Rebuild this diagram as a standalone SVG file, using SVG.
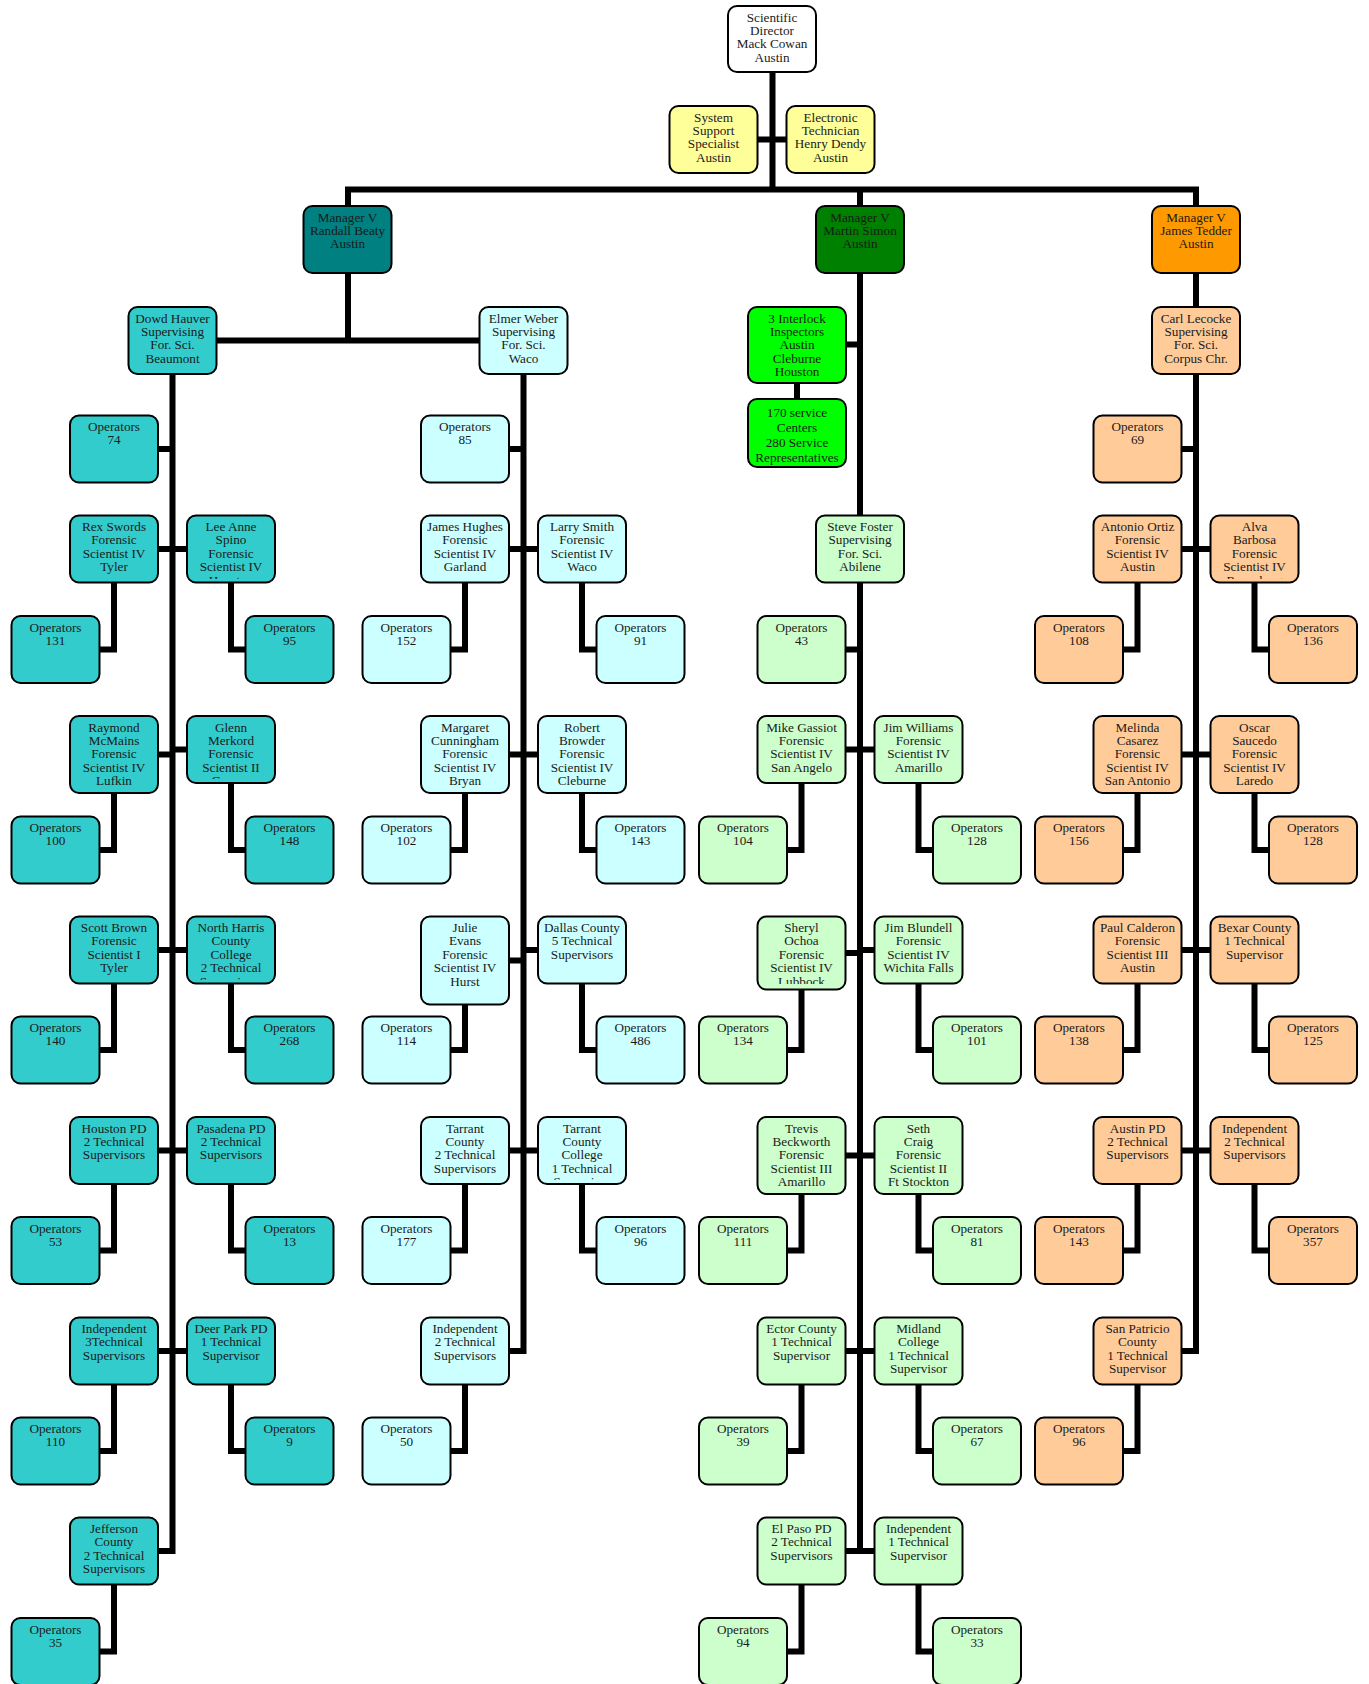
<svg xmlns="http://www.w3.org/2000/svg" width="1369" height="1684" viewBox="0 0 1369 1684">
<style>
  .n rect { stroke: #000; stroke-width: 2; }
  .white rect { fill: #ffffff; }
  .yellow rect { fill: #ffff99; }
  .teal-dk rect { fill: #008080; }
  .green-dk rect { fill: #008000; }
  .orange-dk rect { fill: #ff9900; }
  .lime rect { fill: #00ff00; }
  .teal rect { fill: #33cccc; }
  .cyan rect { fill: #ccffff; }
  .mint rect { fill: #ccffcc; }
  .peach rect { fill: #ffcc99; }
  text { font-family: "Liberation Serif", "Times New Roman", serif; font-size: 13.2px; fill: #1a1a1a; text-anchor: middle; }
  #links path { fill: none; stroke: #000; stroke-width: 6; stroke-linejoin: miter; stroke-linecap: butt; }
</style>
<defs>
  <clipPath id="clip-spino"><rect x="187" y="516" width="88" height="63"/></clipPath>
  <clipPath id="clip-merkord"><rect x="187" y="716" width="88" height="63"/></clipPath>
  <clipPath id="clip-nhcc"><rect x="187" y="917" width="88" height="63"/></clipPath>
  <clipPath id="clip-tcc"><rect x="538" y="1117" width="88" height="63"/></clipPath>
  <clipPath id="clip-ochoa"><rect x="757.5" y="917" width="88" height="67"/></clipPath>
  <clipPath id="clip-barbosa"><rect x="1210.5" y="516" width="88" height="63"/></clipPath>
</defs>
<rect width="1369" height="1684" fill="#ffffff"/>

<g id="links">
  <!-- trunk from the director -->
  <path d="M772.5 39 V189.5"/>
  <path d="M713.5 139.5 H830.5"/>
  <!-- top bar joining the three managers -->
  <path d="M348 340.5 V189.5 H1196 V1351 H1137.5"/>
  <path d="M860 189.5 V1554"/>
  <path d="M172.5 340.5 H523.5"/>
  <!-- Hauver branch -->
  <path d="M172.5 374 V1551 H114"/>
  <path d="M114 449 H172.5"/>
  <path d="M114 549 H231"/>
  <path d="M114 549 V649.5 H55.5"/>
  <path d="M231 549 V649.5 H289.5"/>
  <path d="M114 754.5 H172.5"/>
  <path d="M172.5 749.5 H231"/>
  <path d="M114 754.5 V850 H55.5"/>
  <path d="M231 749.5 V850 H289.5"/>
  <path d="M114 950 H231"/>
  <path d="M114 950 V1050 H55.5"/>
  <path d="M231 950 V1050 H289.5"/>
  <path d="M114 1150.5 H231"/>
  <path d="M114 1150.5 V1250.5 H55.5"/>
  <path d="M231 1150.5 V1250.5 H289.5"/>
  <path d="M114 1351 H231"/>
  <path d="M114 1351 V1451 H55.5"/>
  <path d="M231 1351 V1451 H289.5"/>
  <path d="M114 1551 V1651.5 H55.5"/>
  <!-- Weber branch -->
  <path d="M523.5 373 V1351 H465"/>
  <path d="M465 449 H523.5"/>
  <path d="M465 549 H582"/>
  <path d="M465 549 V649.5 H406.5"/>
  <path d="M582 549 V649.5 H640.5"/>
  <path d="M465 754.5 H582"/>
  <path d="M465 754.5 V850 H406.5"/>
  <path d="M582 754.5 V850 H640.5"/>
  <path d="M465 960.5 H523.5"/>
  <path d="M523.5 950 H582"/>
  <path d="M465 960.5 V1050 H406.5"/>
  <path d="M582 950 V1050 H640.5"/>
  <path d="M465 1150.5 H582"/>
  <path d="M465 1150.5 V1250.5 H406.5"/>
  <path d="M582 1150.5 V1250.5 H640.5"/>
  <path d="M465 1351 V1451 H406.5"/>
  <!-- Simon branch -->
  <path d="M797 344.5 H860"/>
  <path d="M797 345 V433"/>
  <path d="M801.5 649.5 H860"/>
  <path d="M801.5 749.5 H918.5"/>
  <path d="M801.5 749.5 V850 H743"/>
  <path d="M918.5 749.5 V850 H977"/>
  <path d="M801.5 953 H860"/>
  <path d="M860 950 H918.5"/>
  <path d="M801.5 953 V1050 H743"/>
  <path d="M918.5 950 V1050 H977"/>
  <path d="M801.5 1155.5 H918.5"/>
  <path d="M801.5 1155.5 V1250.5 H743"/>
  <path d="M918.5 1155.5 V1250.5 H977"/>
  <path d="M801.5 1351 H918.5"/>
  <path d="M801.5 1351 V1451 H743"/>
  <path d="M918.5 1351 V1451 H977"/>
  <path d="M801.5 1551 H918.5"/>
  <path d="M801.5 1551 V1651.5 H743"/>
  <path d="M918.5 1551 V1651.5 H977"/>
  <!-- Tedder branch -->
  <path d="M1137.5 449 H1196"/>
  <path d="M1137.5 549 H1254.5"/>
  <path d="M1137.5 549 V649.5 H1079"/>
  <path d="M1254.5 549 V649.5 H1313"/>
  <path d="M1137.5 754.5 H1254.5"/>
  <path d="M1137.5 754.5 V850 H1079"/>
  <path d="M1254.5 754.5 V850 H1313"/>
  <path d="M1137.5 950 H1254.5"/>
  <path d="M1137.5 950 V1050 H1079"/>
  <path d="M1254.5 950 V1050 H1313"/>
  <path d="M1137.5 1150.5 H1254.5"/>
  <path d="M1137.5 1150.5 V1250.5 H1079"/>
  <path d="M1254.5 1150.5 V1250.5 H1313"/>
  <path d="M1137.5 1351 V1451 H1079"/>
</g>

<!-- top of the chart -->
<g id="director" class="n white"><rect x="728" y="6" width="88" height="66" rx="9"/><text x="772" y="21.5"><tspan x="772">Scientific</tspan><tspan x="772" dy="13.4">Director</tspan><tspan x="772" dy="13.4">Mack Cowan</tspan><tspan x="772" dy="13.4">Austin</tspan></text></g>
<g id="system-support" class="n yellow"><rect x="669.5" y="106" width="88" height="67" rx="9"/><text x="713.5" y="122"><tspan x="713.5">System</tspan><tspan x="713.5" dy="13.2">Support</tspan><tspan x="713.5" dy="13.2">Specialist</tspan><tspan x="713.5" dy="13.2">Austin</tspan></text></g>
<g id="electronic-tech" class="n yellow"><rect x="786.5" y="106" width="88" height="67" rx="9"/><text x="830.5" y="122"><tspan x="830.5">Electronic</tspan><tspan x="830.5" dy="13.2">Technician</tspan><tspan x="830.5" dy="13.2">Henry Dendy</tspan><tspan x="830.5" dy="13.2">Austin</tspan></text></g>
<g id="mgr-beaty" class="n teal-dk"><rect x="303.5" y="206" width="88" height="67" rx="9"/><text x="347.5" y="221.5"><tspan x="347.5">Manager V</tspan><tspan x="347.5" dy="13.4">Randall Beaty</tspan><tspan x="347.5" dy="13.4">Austin</tspan></text></g>
<g id="mgr-simon" class="n green-dk"><rect x="816" y="206" width="88" height="67" rx="9"/><text x="860" y="221.5"><tspan x="860">Manager V</tspan><tspan x="860" dy="13.4">Martin Simon</tspan><tspan x="860" dy="13.4">Austin</tspan></text></g>
<g id="mgr-tedder" class="n orange-dk"><rect x="1152" y="206" width="88" height="67" rx="9"/><text x="1196" y="221.5"><tspan x="1196">Manager V</tspan><tspan x="1196" dy="13.4">James Tedder</tspan><tspan x="1196" dy="13.4">Austin</tspan></text></g>
<g id="sup-hauver" class="n teal"><rect x="128.5" y="307" width="88" height="67" rx="9"/><text x="172.5" y="322.5"><tspan x="172.5">Dowd Hauver</tspan><tspan x="172.5" dy="13.4">Supervising</tspan><tspan x="172.5" dy="13.4">For. Sci.</tspan><tspan x="172.5" dy="13.4">Beaumont</tspan></text></g>
<g id="sup-weber" class="n cyan"><rect x="479.5" y="307" width="88" height="67" rx="9"/><text x="523.5" y="322.5"><tspan x="523.5">Elmer Weber</tspan><tspan x="523.5" dy="13.4">Supervising</tspan><tspan x="523.5" dy="13.4">For. Sci.</tspan><tspan x="523.5" dy="13.4">Waco</tspan></text></g>
<g id="interlock" class="n lime"><rect x="748" y="307" width="98" height="76" rx="9"/><text x="797" y="322.5"><tspan x="797">3 Interlock</tspan><tspan x="797" dy="13.4">Inspectors</tspan><tspan x="797" dy="13.4">Austin</tspan><tspan x="797" dy="13.4">Cleburne</tspan><tspan x="797" dy="13.4">Houston</tspan></text></g>
<g id="service-centers" class="n lime"><rect x="748" y="399" width="98" height="68" rx="9"/><text x="797" y="416.5"><tspan x="797">170 service</tspan><tspan x="797" dy="15">Centers</tspan><tspan x="797" dy="15">280 Service</tspan><tspan x="797" dy="15">Representatives</tspan></text></g>
<g id="sup-lecocke" class="n peach"><rect x="1152" y="307" width="88" height="67" rx="9"/><text x="1196" y="322.5"><tspan x="1196">Carl Lecocke</tspan><tspan x="1196" dy="13.4">Supervising</tspan><tspan x="1196" dy="13.4">For. Sci.</tspan><tspan x="1196" dy="13.4">Corpus Chr.</tspan></text></g>
<g id="sup-foster" class="n mint"><rect x="816" y="515.5" width="88" height="67" rx="9"/><text x="860" y="531"><tspan x="860">Steve Foster</tspan><tspan x="860" dy="13.4">Supervising</tspan><tspan x="860" dy="13.4">For. Sci.</tspan><tspan x="860" dy="13.4">Abilene</tspan></text></g>

<!-- Hauver branch -->
<g id="ops-74" class="n teal"><rect x="70" y="415.5" width="88" height="67" rx="9"/><text x="114" y="431"><tspan x="114">Operators</tspan><tspan x="114" dy="13.4">74</tspan></text></g>
<g id="swords" class="n teal"><rect x="70" y="515.5" width="88" height="67" rx="9"/><text x="114" y="531"><tspan x="114">Rex Swords</tspan><tspan x="114" dy="13.4">Forensic</tspan><tspan x="114" dy="13.4">Scientist IV</tspan><tspan x="114" dy="13.4">Tyler</tspan></text></g>
<g id="spino" class="n teal"><rect x="187" y="515.5" width="88" height="67" rx="9"/><text x="231" y="531" clip-path="url(#clip-spino)"><tspan x="231">Lee Anne</tspan><tspan x="231" dy="13.4">Spino</tspan><tspan x="231" dy="13.4">Forensic</tspan><tspan x="231" dy="13.4">Scientist IV</tspan><tspan x="231" dy="13.4">Houston</tspan></text></g>
<g id="ops-131" class="n teal"><rect x="11.5" y="616" width="88" height="67" rx="9"/><text x="55.5" y="631.5"><tspan x="55.5">Operators</tspan><tspan x="55.5" dy="13.4">131</tspan></text></g>
<g id="ops-95" class="n teal"><rect x="245.5" y="616" width="88" height="67" rx="9"/><text x="289.5" y="631.5"><tspan x="289.5">Operators</tspan><tspan x="289.5" dy="13.4">95</tspan></text></g>
<g id="mcmains" class="n teal"><rect x="70" y="716" width="88" height="77" rx="9"/><text x="114" y="731.5"><tspan x="114">Raymond</tspan><tspan x="114" dy="13.4">McMains</tspan><tspan x="114" dy="13.4">Forensic</tspan><tspan x="114" dy="13.4">Scientist IV</tspan><tspan x="114" dy="13.4">Lufkin</tspan></text></g>
<g id="merkord" class="n teal"><rect x="187" y="716" width="88" height="67" rx="9"/><text x="231" y="731.5" clip-path="url(#clip-merkord)"><tspan x="231">Glenn</tspan><tspan x="231" dy="13.4">Merkord</tspan><tspan x="231" dy="13.4">Forensic</tspan><tspan x="231" dy="13.4">Scientist II</tspan><tspan x="231" dy="13.4">Conroe</tspan></text></g>
<g id="ops-100" class="n teal"><rect x="11.5" y="816.5" width="88" height="67" rx="9"/><text x="55.5" y="832"><tspan x="55.5">Operators</tspan><tspan x="55.5" dy="13.4">100</tspan></text></g>
<g id="ops-148" class="n teal"><rect x="245.5" y="816.5" width="88" height="67" rx="9"/><text x="289.5" y="832"><tspan x="289.5">Operators</tspan><tspan x="289.5" dy="13.4">148</tspan></text></g>
<g id="brown" class="n teal"><rect x="70" y="916.5" width="88" height="67" rx="9"/><text x="114" y="932"><tspan x="114">Scott Brown</tspan><tspan x="114" dy="13.4">Forensic</tspan><tspan x="114" dy="13.4">Scientist I</tspan><tspan x="114" dy="13.4">Tyler</tspan></text></g>
<g id="north-harris" class="n teal"><rect x="187" y="916.5" width="88" height="67" rx="9"/><text x="231" y="932" clip-path="url(#clip-nhcc)"><tspan x="231">North Harris</tspan><tspan x="231" dy="13.4">County</tspan><tspan x="231" dy="13.4">College</tspan><tspan x="231" dy="13.4">2 Technical</tspan><tspan x="231" dy="13.4">Supervisors</tspan></text></g>
<g id="ops-140" class="n teal"><rect x="11.5" y="1016.5" width="88" height="67" rx="9"/><text x="55.5" y="1032"><tspan x="55.5">Operators</tspan><tspan x="55.5" dy="13.4">140</tspan></text></g>
<g id="ops-268" class="n teal"><rect x="245.5" y="1016.5" width="88" height="67" rx="9"/><text x="289.5" y="1032"><tspan x="289.5">Operators</tspan><tspan x="289.5" dy="13.4">268</tspan></text></g>
<g id="houston-pd" class="n teal"><rect x="70" y="1117" width="88" height="67" rx="9"/><text x="114" y="1132.5"><tspan x="114">Houston PD</tspan><tspan x="114" dy="13.4">2 Technical</tspan><tspan x="114" dy="13.4">Supervisors</tspan></text></g>
<g id="pasadena-pd" class="n teal"><rect x="187" y="1117" width="88" height="67" rx="9"/><text x="231" y="1132.5"><tspan x="231">Pasadena PD</tspan><tspan x="231" dy="13.4">2 Technical</tspan><tspan x="231" dy="13.4">Supervisors</tspan></text></g>
<g id="ops-53" class="n teal"><rect x="11.5" y="1217" width="88" height="67" rx="9"/><text x="55.5" y="1232.5"><tspan x="55.5">Operators</tspan><tspan x="55.5" dy="13.4">53</tspan></text></g>
<g id="ops-13" class="n teal"><rect x="245.5" y="1217" width="88" height="67" rx="9"/><text x="289.5" y="1232.5"><tspan x="289.5">Operators</tspan><tspan x="289.5" dy="13.4">13</tspan></text></g>
<g id="independent-t" class="n teal"><rect x="70" y="1317.5" width="88" height="67" rx="9"/><text x="114" y="1333"><tspan x="114">Independent</tspan><tspan x="114" dy="13.4">3Technical</tspan><tspan x="114" dy="13.4">Supervisors</tspan></text></g>
<g id="deer-park-pd" class="n teal"><rect x="187" y="1317.5" width="88" height="67" rx="9"/><text x="231" y="1333"><tspan x="231">Deer Park PD</tspan><tspan x="231" dy="13.4">1 Technical</tspan><tspan x="231" dy="13.4">Supervisor</tspan></text></g>
<g id="ops-110" class="n teal"><rect x="11.5" y="1417.5" width="88" height="67" rx="9"/><text x="55.5" y="1433"><tspan x="55.5">Operators</tspan><tspan x="55.5" dy="13.4">110</tspan></text></g>
<g id="ops-9" class="n teal"><rect x="245.5" y="1417.5" width="88" height="67" rx="9"/><text x="289.5" y="1433"><tspan x="289.5">Operators</tspan><tspan x="289.5" dy="13.4">9</tspan></text></g>
<g id="jefferson" class="n teal"><rect x="70" y="1517.5" width="88" height="67" rx="9"/><text x="114" y="1533"><tspan x="114">Jefferson</tspan><tspan x="114" dy="13.4">County</tspan><tspan x="114" dy="13.4">2 Technical</tspan><tspan x="114" dy="13.4">Supervisors</tspan></text></g>
<g id="ops-35" class="n teal"><rect x="11.5" y="1618" width="88" height="67" rx="9"/><text x="55.5" y="1633.5"><tspan x="55.5">Operators</tspan><tspan x="55.5" dy="13.4">35</tspan></text></g>

<!-- Weber branch -->
<g id="ops-85" class="n cyan"><rect x="421" y="415.5" width="88" height="67" rx="9"/><text x="465" y="431"><tspan x="465">Operators</tspan><tspan x="465" dy="13.4">85</tspan></text></g>
<g id="hughes" class="n cyan"><rect x="421" y="515.5" width="88" height="67" rx="9"/><text x="465" y="531"><tspan x="465">James Hughes</tspan><tspan x="465" dy="13.4">Forensic</tspan><tspan x="465" dy="13.4">Scientist IV</tspan><tspan x="465" dy="13.4">Garland</tspan></text></g>
<g id="smith" class="n cyan"><rect x="538" y="515.5" width="88" height="67" rx="9"/><text x="582" y="531"><tspan x="582">Larry Smith</tspan><tspan x="582" dy="13.4">Forensic</tspan><tspan x="582" dy="13.4">Scientist IV</tspan><tspan x="582" dy="13.4">Waco</tspan></text></g>
<g id="ops-152" class="n cyan"><rect x="362.5" y="616" width="88" height="67" rx="9"/><text x="406.5" y="631.5"><tspan x="406.5">Operators</tspan><tspan x="406.5" dy="13.4">152</tspan></text></g>
<g id="ops-91" class="n cyan"><rect x="596.5" y="616" width="88" height="67" rx="9"/><text x="640.5" y="631.5"><tspan x="640.5">Operators</tspan><tspan x="640.5" dy="13.4">91</tspan></text></g>
<g id="cunningham" class="n cyan"><rect x="421" y="716" width="88" height="77" rx="9"/><text x="465" y="731.5"><tspan x="465">Margaret</tspan><tspan x="465" dy="13.4">Cunningham</tspan><tspan x="465" dy="13.4">Forensic</tspan><tspan x="465" dy="13.4">Scientist IV</tspan><tspan x="465" dy="13.4">Bryan</tspan></text></g>
<g id="browder" class="n cyan"><rect x="538" y="716" width="88" height="77" rx="9"/><text x="582" y="731.5"><tspan x="582">Robert</tspan><tspan x="582" dy="13.4">Browder</tspan><tspan x="582" dy="13.4">Forensic</tspan><tspan x="582" dy="13.4">Scientist IV</tspan><tspan x="582" dy="13.4">Cleburne</tspan></text></g>
<g id="ops-102" class="n cyan"><rect x="362.5" y="816.5" width="88" height="67" rx="9"/><text x="406.5" y="832"><tspan x="406.5">Operators</tspan><tspan x="406.5" dy="13.4">102</tspan></text></g>
<g id="ops-143a" class="n cyan"><rect x="596.5" y="816.5" width="88" height="67" rx="9"/><text x="640.5" y="832"><tspan x="640.5">Operators</tspan><tspan x="640.5" dy="13.4">143</tspan></text></g>
<g id="evans" class="n cyan"><rect x="421" y="916.5" width="88" height="88" rx="9"/><text x="465" y="932"><tspan x="465">Julie</tspan><tspan x="465" dy="13.4">Evans</tspan><tspan x="465" dy="13.4">Forensic</tspan><tspan x="465" dy="13.4">Scientist IV</tspan><tspan x="465" dy="13.4">Hurst</tspan></text></g>
<g id="dallas-county" class="n cyan"><rect x="538" y="916.5" width="88" height="67" rx="9"/><text x="582" y="932"><tspan x="582">Dallas County</tspan><tspan x="582" dy="13.4">5 Technical</tspan><tspan x="582" dy="13.4">Supervisors</tspan></text></g>
<g id="ops-114" class="n cyan"><rect x="362.5" y="1016.5" width="88" height="67" rx="9"/><text x="406.5" y="1032"><tspan x="406.5">Operators</tspan><tspan x="406.5" dy="13.4">114</tspan></text></g>
<g id="ops-486" class="n cyan"><rect x="596.5" y="1016.5" width="88" height="67" rx="9"/><text x="640.5" y="1032"><tspan x="640.5">Operators</tspan><tspan x="640.5" dy="13.4">486</tspan></text></g>
<g id="tarrant-county" class="n cyan"><rect x="421" y="1117" width="88" height="67" rx="9"/><text x="465" y="1132.5"><tspan x="465">Tarrant</tspan><tspan x="465" dy="13.4">County</tspan><tspan x="465" dy="13.4">2 Technical</tspan><tspan x="465" dy="13.4">Supervisors</tspan></text></g>
<g id="tarrant-college" class="n cyan"><rect x="538" y="1117" width="88" height="67" rx="9"/><text x="582" y="1132.5" clip-path="url(#clip-tcc)"><tspan x="582">Tarrant</tspan><tspan x="582" dy="13.4">County</tspan><tspan x="582" dy="13.4">College</tspan><tspan x="582" dy="13.4">1 Technical</tspan><tspan x="582" dy="13.4">Supervisor</tspan></text></g>
<g id="ops-177" class="n cyan"><rect x="362.5" y="1217" width="88" height="67" rx="9"/><text x="406.5" y="1232.5"><tspan x="406.5">Operators</tspan><tspan x="406.5" dy="13.4">177</tspan></text></g>
<g id="ops-96a" class="n cyan"><rect x="596.5" y="1217" width="88" height="67" rx="9"/><text x="640.5" y="1232.5"><tspan x="640.5">Operators</tspan><tspan x="640.5" dy="13.4">96</tspan></text></g>
<g id="independent-w" class="n cyan"><rect x="421" y="1317.5" width="88" height="67" rx="9"/><text x="465" y="1333"><tspan x="465">Independent</tspan><tspan x="465" dy="13.4">2 Technical</tspan><tspan x="465" dy="13.4">Supervisors</tspan></text></g>
<g id="ops-50" class="n cyan"><rect x="362.5" y="1417.5" width="88" height="67" rx="9"/><text x="406.5" y="1433"><tspan x="406.5">Operators</tspan><tspan x="406.5" dy="13.4">50</tspan></text></g>

<!-- Foster branch -->
<g id="ops-43" class="n mint"><rect x="757.5" y="616" width="88" height="67" rx="9"/><text x="801.5" y="631.5"><tspan x="801.5">Operators</tspan><tspan x="801.5" dy="13.4">43</tspan></text></g>
<g id="gassiot" class="n mint"><rect x="757.5" y="716" width="88" height="67" rx="9"/><text x="801.5" y="731.5"><tspan x="801.5">Mike Gassiot</tspan><tspan x="801.5" dy="13.4">Forensic</tspan><tspan x="801.5" dy="13.4">Scientist IV</tspan><tspan x="801.5" dy="13.4">San Angelo</tspan></text></g>
<g id="williams" class="n mint"><rect x="874.5" y="716" width="88" height="67" rx="9"/><text x="918.5" y="731.5"><tspan x="918.5">Jim Williams</tspan><tspan x="918.5" dy="13.4">Forensic</tspan><tspan x="918.5" dy="13.4">Scientist IV</tspan><tspan x="918.5" dy="13.4">Amarillo</tspan></text></g>
<g id="ops-104" class="n mint"><rect x="699" y="816.5" width="88" height="67" rx="9"/><text x="743" y="832"><tspan x="743">Operators</tspan><tspan x="743" dy="13.4">104</tspan></text></g>
<g id="ops-128a" class="n mint"><rect x="933" y="816.5" width="88" height="67" rx="9"/><text x="977" y="832"><tspan x="977">Operators</tspan><tspan x="977" dy="13.4">128</tspan></text></g>
<g id="ochoa" class="n mint"><rect x="757.5" y="916.5" width="88" height="73" rx="9"/><text x="801.5" y="932" clip-path="url(#clip-ochoa)"><tspan x="801.5">Sheryl</tspan><tspan x="801.5" dy="13.4">Ochoa</tspan><tspan x="801.5" dy="13.4">Forensic</tspan><tspan x="801.5" dy="13.4">Scientist IV</tspan><tspan x="801.5" dy="13.4">Lubbock</tspan></text></g>
<g id="blundell" class="n mint"><rect x="874.5" y="916.5" width="88" height="67" rx="9"/><text x="918.5" y="932"><tspan x="918.5">Jim Blundell</tspan><tspan x="918.5" dy="13.4">Forensic</tspan><tspan x="918.5" dy="13.4">Scientist IV</tspan><tspan x="918.5" dy="13.4">Wichita Falls</tspan></text></g>
<g id="ops-134" class="n mint"><rect x="699" y="1016.5" width="88" height="67" rx="9"/><text x="743" y="1032"><tspan x="743">Operators</tspan><tspan x="743" dy="13.4">134</tspan></text></g>
<g id="ops-101" class="n mint"><rect x="933" y="1016.5" width="88" height="67" rx="9"/><text x="977" y="1032"><tspan x="977">Operators</tspan><tspan x="977" dy="13.4">101</tspan></text></g>
<g id="beckworth" class="n mint"><rect x="757.5" y="1117" width="88" height="77" rx="9"/><text x="801.5" y="1132.5"><tspan x="801.5">Trevis</tspan><tspan x="801.5" dy="13.4">Beckworth</tspan><tspan x="801.5" dy="13.4">Forensic</tspan><tspan x="801.5" dy="13.4">Scientist III</tspan><tspan x="801.5" dy="13.4">Amarillo</tspan></text></g>
<g id="craig" class="n mint"><rect x="874.5" y="1117" width="88" height="77" rx="9"/><text x="918.5" y="1132.5"><tspan x="918.5">Seth</tspan><tspan x="918.5" dy="13.4">Craig</tspan><tspan x="918.5" dy="13.4">Forensic</tspan><tspan x="918.5" dy="13.4">Scientist II</tspan><tspan x="918.5" dy="13.4">Ft Stockton</tspan></text></g>
<g id="ops-111" class="n mint"><rect x="699" y="1217" width="88" height="67" rx="9"/><text x="743" y="1232.5"><tspan x="743">Operators</tspan><tspan x="743" dy="13.4">111</tspan></text></g>
<g id="ops-81" class="n mint"><rect x="933" y="1217" width="88" height="67" rx="9"/><text x="977" y="1232.5"><tspan x="977">Operators</tspan><tspan x="977" dy="13.4">81</tspan></text></g>
<g id="ector-county" class="n mint"><rect x="757.5" y="1317.5" width="88" height="67" rx="9"/><text x="801.5" y="1333"><tspan x="801.5">Ector County</tspan><tspan x="801.5" dy="13.4">1 Technical</tspan><tspan x="801.5" dy="13.4">Supervisor</tspan></text></g>
<g id="midland-college" class="n mint"><rect x="874.5" y="1317.5" width="88" height="67" rx="9"/><text x="918.5" y="1333"><tspan x="918.5">Midland</tspan><tspan x="918.5" dy="13.4">College</tspan><tspan x="918.5" dy="13.4">1 Technical</tspan><tspan x="918.5" dy="13.4">Supervisor</tspan></text></g>
<g id="ops-39" class="n mint"><rect x="699" y="1417.5" width="88" height="67" rx="9"/><text x="743" y="1433"><tspan x="743">Operators</tspan><tspan x="743" dy="13.4">39</tspan></text></g>
<g id="ops-67" class="n mint"><rect x="933" y="1417.5" width="88" height="67" rx="9"/><text x="977" y="1433"><tspan x="977">Operators</tspan><tspan x="977" dy="13.4">67</tspan></text></g>
<g id="el-paso-pd" class="n mint"><rect x="757.5" y="1517.5" width="88" height="67" rx="9"/><text x="801.5" y="1533"><tspan x="801.5">El Paso PD</tspan><tspan x="801.5" dy="13.4">2 Technical</tspan><tspan x="801.5" dy="13.4">Supervisors</tspan></text></g>
<g id="independent-f" class="n mint"><rect x="874.5" y="1517.5" width="88" height="67" rx="9"/><text x="918.5" y="1533"><tspan x="918.5">Independent</tspan><tspan x="918.5" dy="13.4">1 Technical</tspan><tspan x="918.5" dy="13.4">Supervisor</tspan></text></g>
<g id="ops-94" class="n mint"><rect x="699" y="1618" width="88" height="67" rx="9"/><text x="743" y="1633.5"><tspan x="743">Operators</tspan><tspan x="743" dy="13.4">94</tspan></text></g>
<g id="ops-33" class="n mint"><rect x="933" y="1618" width="88" height="67" rx="9"/><text x="977" y="1633.5"><tspan x="977">Operators</tspan><tspan x="977" dy="13.4">33</tspan></text></g>

<!-- Lecocke branch -->
<g id="ops-69" class="n peach"><rect x="1093.5" y="415.5" width="88" height="67" rx="9"/><text x="1137.5" y="431"><tspan x="1137.5">Operators</tspan><tspan x="1137.5" dy="13.4">69</tspan></text></g>
<g id="ortiz" class="n peach"><rect x="1093.5" y="515.5" width="88" height="67" rx="9"/><text x="1137.5" y="531"><tspan x="1137.5">Antonio Ortiz</tspan><tspan x="1137.5" dy="13.4">Forensic</tspan><tspan x="1137.5" dy="13.4">Scientist IV</tspan><tspan x="1137.5" dy="13.4">Austin</tspan></text></g>
<g id="barbosa" class="n peach"><rect x="1210.5" y="515.5" width="88" height="67" rx="9"/><text x="1254.5" y="531" clip-path="url(#clip-barbosa)"><tspan x="1254.5">Alva</tspan><tspan x="1254.5" dy="13.4">Barbosa</tspan><tspan x="1254.5" dy="13.4">Forensic</tspan><tspan x="1254.5" dy="13.4">Scientist IV</tspan><tspan x="1254.5" dy="13.4">Rosenberg</tspan></text></g>
<g id="ops-108" class="n peach"><rect x="1035" y="616" width="88" height="67" rx="9"/><text x="1079" y="631.5"><tspan x="1079">Operators</tspan><tspan x="1079" dy="13.4">108</tspan></text></g>
<g id="ops-136" class="n peach"><rect x="1269" y="616" width="88" height="67" rx="9"/><text x="1313" y="631.5"><tspan x="1313">Operators</tspan><tspan x="1313" dy="13.4">136</tspan></text></g>
<g id="casarez" class="n peach"><rect x="1093.5" y="716" width="88" height="77" rx="9"/><text x="1137.5" y="731.5"><tspan x="1137.5">Melinda</tspan><tspan x="1137.5" dy="13.4">Casarez</tspan><tspan x="1137.5" dy="13.4">Forensic</tspan><tspan x="1137.5" dy="13.4">Scientist IV</tspan><tspan x="1137.5" dy="13.4">San Antonio</tspan></text></g>
<g id="saucedo" class="n peach"><rect x="1210.5" y="716" width="88" height="77" rx="9"/><text x="1254.5" y="731.5"><tspan x="1254.5">Oscar</tspan><tspan x="1254.5" dy="13.4">Saucedo</tspan><tspan x="1254.5" dy="13.4">Forensic</tspan><tspan x="1254.5" dy="13.4">Scientist IV</tspan><tspan x="1254.5" dy="13.4">Laredo</tspan></text></g>
<g id="ops-156" class="n peach"><rect x="1035" y="816.5" width="88" height="67" rx="9"/><text x="1079" y="832"><tspan x="1079">Operators</tspan><tspan x="1079" dy="13.4">156</tspan></text></g>
<g id="ops-128b" class="n peach"><rect x="1269" y="816.5" width="88" height="67" rx="9"/><text x="1313" y="832"><tspan x="1313">Operators</tspan><tspan x="1313" dy="13.4">128</tspan></text></g>
<g id="calderon" class="n peach"><rect x="1093.5" y="916.5" width="88" height="67" rx="9"/><text x="1137.5" y="932"><tspan x="1137.5">Paul Calderon</tspan><tspan x="1137.5" dy="13.4">Forensic</tspan><tspan x="1137.5" dy="13.4">Scientist III</tspan><tspan x="1137.5" dy="13.4">Austin</tspan></text></g>
<g id="bexar-county" class="n peach"><rect x="1210.5" y="916.5" width="88" height="67" rx="9"/><text x="1254.5" y="932"><tspan x="1254.5">Bexar County</tspan><tspan x="1254.5" dy="13.4">1 Technical</tspan><tspan x="1254.5" dy="13.4">Supervisor</tspan></text></g>
<g id="ops-138" class="n peach"><rect x="1035" y="1016.5" width="88" height="67" rx="9"/><text x="1079" y="1032"><tspan x="1079">Operators</tspan><tspan x="1079" dy="13.4">138</tspan></text></g>
<g id="ops-125" class="n peach"><rect x="1269" y="1016.5" width="88" height="67" rx="9"/><text x="1313" y="1032"><tspan x="1313">Operators</tspan><tspan x="1313" dy="13.4">125</tspan></text></g>
<g id="austin-pd" class="n peach"><rect x="1093.5" y="1117" width="88" height="67" rx="9"/><text x="1137.5" y="1132.5"><tspan x="1137.5">Austin PD</tspan><tspan x="1137.5" dy="13.4">2 Technical</tspan><tspan x="1137.5" dy="13.4">Supervisors</tspan></text></g>
<g id="independent-l" class="n peach"><rect x="1210.5" y="1117" width="88" height="67" rx="9"/><text x="1254.5" y="1132.5"><tspan x="1254.5">Independent</tspan><tspan x="1254.5" dy="13.4">2 Technical</tspan><tspan x="1254.5" dy="13.4">Supervisors</tspan></text></g>
<g id="ops-143b" class="n peach"><rect x="1035" y="1217" width="88" height="67" rx="9"/><text x="1079" y="1232.5"><tspan x="1079">Operators</tspan><tspan x="1079" dy="13.4">143</tspan></text></g>
<g id="ops-357" class="n peach"><rect x="1269" y="1217" width="88" height="67" rx="9"/><text x="1313" y="1232.5"><tspan x="1313">Operators</tspan><tspan x="1313" dy="13.4">357</tspan></text></g>
<g id="san-patricio" class="n peach"><rect x="1093.5" y="1317.5" width="88" height="67" rx="9"/><text x="1137.5" y="1333"><tspan x="1137.5">San Patricio</tspan><tspan x="1137.5" dy="13.4">County</tspan><tspan x="1137.5" dy="13.4">1 Technical</tspan><tspan x="1137.5" dy="13.4">Supervisor</tspan></text></g>
<g id="ops-96b" class="n peach"><rect x="1035" y="1417.5" width="88" height="67" rx="9"/><text x="1079" y="1433"><tspan x="1079">Operators</tspan><tspan x="1079" dy="13.4">96</tspan></text></g>
</svg>
